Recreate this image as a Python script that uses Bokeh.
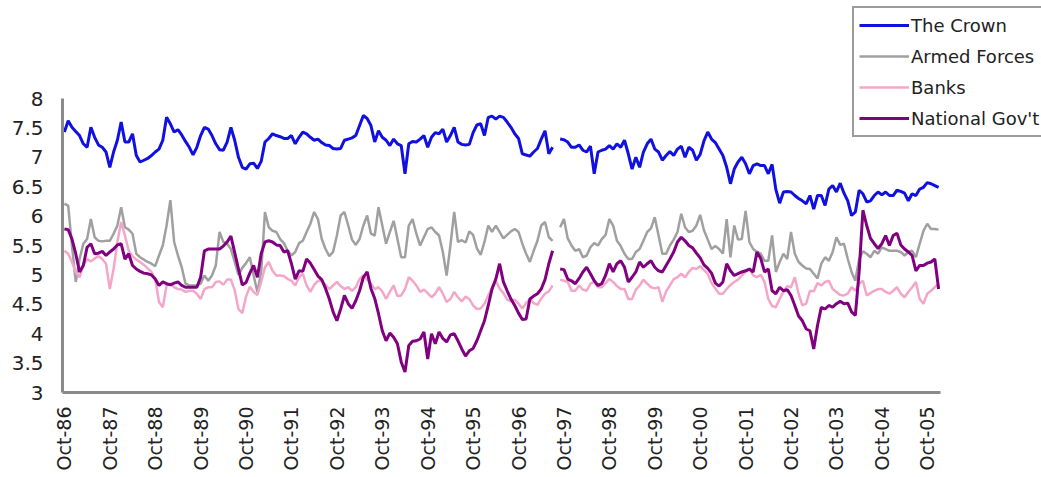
import math
from bokeh.plotting import figure
from bokeh.models import ColumnDataSource, FixedTicker, Legend, LegendItem
from bokeh.embed import file_html
from bokeh.resources import INLINE

nan = float("nan")

# Monthly values, Oct-86 .. Jan-06 (one missing month mid-1997)
the_crown = [
    7.43, 7.62, 7.51, 7.44, 7.37, 7.23, 7.17, 7.51, 7.34, 7.21,
    7.17, 7.09, 6.83, 7.09, 7.29, 7.60, 7.26, 7.26, 7.40, 7.03,
    6.92, 6.95, 6.98, 7.03, 7.09, 7.14, 7.29, 7.68, 7.57, 7.43,
    7.47, 7.38, 7.27, 7.17, 7.04, 7.17, 7.37, 7.51, 7.48, 7.37,
    7.23, 7.13, 7.12, 7.26, 7.51, 7.29, 7.00, 6.83, 6.80, 6.89,
    6.90, 6.81, 6.93, 7.26, 7.32, 7.40, 7.37, 7.35, 7.32, 7.32,
    7.37, 7.23, 7.34, 7.43, 7.40, 7.34, 7.29, 7.31, 7.25, 7.21,
    7.20, 7.15, 7.14, 7.15, 7.29, 7.31, 7.33, 7.37, 7.54, 7.71,
    7.66, 7.54, 7.26, 7.45, 7.34, 7.29, 7.20, 7.31, 7.23, 7.20,
    6.72, 7.23, 7.27, 7.26, 7.31, 7.37, 7.17, 7.34, 7.42, 7.40,
    7.48, 7.26, 7.37, 7.51, 7.26, 7.22, 7.21, 7.22, 7.42, 7.55,
    7.57, 7.37, 7.68, 7.70, 7.65, 7.70, 7.68, 7.60, 7.51, 7.40,
    7.32, 7.06, 7.04, 7.02, 7.09, 7.15, 7.31, 7.45, 7.06, 7.17,
    nan, 7.31, 7.30, 7.26, 7.17, 7.17, 7.21, 7.12, 7.09, 7.19,
    6.72, 7.09, 7.12, 7.14, 7.20, 7.14, 7.23, 7.17, 7.29, 7.06,
    6.80, 7.00, 6.83, 7.09, 7.23, 7.31, 7.14, 7.09, 6.95, 7.03,
    7.10, 7.03, 7.14, 7.19, 7.00, 7.17, 7.12, 6.95, 7.05, 7.28,
    7.43, 7.31, 7.25, 7.14, 7.03, 6.83, 6.55, 6.80, 6.92, 7.00,
    6.89, 6.72, 6.86, 6.89, 6.86, 6.86, 6.72, 6.88, 6.45, 6.22,
    6.41, 6.42, 6.41, 6.35, 6.30, 6.26, 6.21, 6.35, 6.12, 6.35,
    6.35, 6.18, 6.46, 6.52, 6.41, 6.56, 6.39, 6.26, 6.01, 6.07,
    6.44, 6.38, 6.24, 6.26, 6.35, 6.41, 6.36, 6.41, 6.35, 6.35,
    6.44, 6.42, 6.39, 6.26, 6.38, 6.35, 6.46, 6.49, 6.57, 6.55,
    6.52, 6.49,
]

armed_forces = [
    6.21, 6.18, 5.50, 4.88, 5.27, 5.53, 5.61, 5.95, 5.64, 5.58,
    5.57, 5.58, 5.58, 5.70, 5.84, 6.15, 5.81, 5.77, 5.70, 5.36,
    5.30, 5.26, 5.22, 5.19, 5.15, 5.33, 5.50, 5.84, 6.27, 5.56,
    5.33, 5.13, 4.85, 4.82, 4.82, 4.82, 4.85, 4.99, 4.90, 4.99,
    5.16, 5.73, 5.56, 5.53, 5.44, 5.22, 5.00, 5.12, 5.20, 5.30,
    4.99, 4.71, 5.05, 6.07, 5.81, 5.75, 5.73, 5.61, 5.54, 5.41,
    5.33, 5.39, 5.54, 5.58, 5.73, 5.87, 6.07, 5.95, 5.61, 5.44,
    5.32, 5.39, 5.67, 6.01, 6.07, 5.84, 5.60, 5.51, 5.61, 5.84,
    6.01, 5.70, 5.67, 6.15, 5.84, 5.53, 5.73, 5.92, 5.61, 5.30,
    5.30, 5.84, 5.95, 5.70, 5.50, 5.64, 5.78, 5.81, 5.73, 5.67,
    5.39, 4.99, 5.50, 6.07, 5.56, 5.59, 5.55, 5.74, 5.68, 5.45,
    5.34, 5.56, 5.84, 5.73, 5.84, 5.73, 5.62, 5.68, 5.74, 5.78,
    5.73, 5.53, 5.36, 5.22, 5.41, 5.58, 5.84, 5.90, 5.64, 5.58,
    nan, 5.81, 5.95, 5.62, 5.50, 5.41, 5.44, 5.30, 5.33, 5.47,
    5.54, 5.50, 5.61, 5.68, 5.95, 5.84, 5.58, 5.49, 5.36, 5.27,
    5.27, 5.39, 5.44, 5.58, 5.73, 5.79, 5.98, 5.67, 5.36, 5.36,
    5.50, 5.60, 5.73, 6.04, 5.81, 5.73, 5.75, 5.84, 6.02, 5.76,
    5.60, 5.44, 5.49, 5.44, 5.36, 5.95, 5.30, 5.84, 5.60, 5.61,
    6.09, 5.56, 5.44, 5.39, 5.36, 5.24, 5.24, 5.67, 5.05, 5.22,
    5.36, 5.27, 5.73, 5.36, 5.22, 5.16, 5.11, 5.10, 5.02, 4.94,
    5.19, 5.30, 5.24, 5.39, 5.64, 5.51, 5.53, 5.27, 5.05, 4.90,
    5.27, 5.40, 5.36, 5.30, 5.41, 5.36, 5.47, 5.44, 5.41, 5.41,
    5.41, 5.39, 5.33, 5.39, 5.41, 5.30, 5.53, 5.75, 5.87, 5.78,
    5.78, 5.77,
]

banks = [
    5.41, 5.36, 5.22, 5.05, 4.96, 5.16, 5.27, 5.23, 5.28, 5.32,
    5.27, 5.19, 4.76, 5.10, 5.56, 5.90, 5.67, 5.41, 5.32, 5.26,
    5.22, 5.17, 5.11, 5.05, 4.93, 4.54, 4.45, 4.82, 4.85, 4.79,
    4.76, 4.75, 4.71, 4.73, 4.73, 4.68, 4.59, 4.76, 4.79, 4.79,
    4.88, 4.89, 4.83, 4.92, 4.92, 4.74, 4.42, 4.35, 4.63, 4.80,
    4.71, 4.66, 4.88, 5.13, 5.22, 5.07, 4.99, 4.99, 4.98, 4.93,
    4.90, 4.82, 4.96, 5.02, 4.82, 4.71, 4.83, 4.90, 4.90, 4.83,
    4.76, 4.82, 4.88, 4.81, 4.76, 4.79, 4.73, 4.79, 4.93, 4.99,
    4.92, 4.85, 4.76, 4.79, 4.72, 4.59, 4.71, 4.82, 4.64, 4.65,
    4.76, 4.96, 4.90, 4.82, 4.71, 4.75, 4.69, 4.62, 4.68, 4.79,
    4.68, 4.54, 4.59, 4.71, 4.62, 4.55, 4.63, 4.59, 4.48, 4.42,
    4.43, 4.51, 4.65, 4.79, 4.90, 4.77, 4.69, 4.58, 4.55, 4.58,
    4.51, 4.43, 4.52, 4.59, 4.52, 4.49, 4.60, 4.68, 4.72, 4.82,
    nan, 4.92, 4.90, 4.88, 4.73, 4.73, 4.82, 4.75, 4.73, 4.85,
    4.88, 4.79, 4.79, 4.86, 4.93, 4.88, 4.81, 4.76, 4.76, 4.59,
    4.59, 4.75, 4.82, 4.92, 4.85, 4.79, 4.77, 4.79, 4.54, 4.72,
    4.82, 4.93, 4.96, 5.02, 4.96, 5.05, 5.12, 5.10, 5.15, 5.08,
    5.02, 4.86, 4.77, 4.68, 4.68, 4.76, 4.83, 4.88, 4.92, 4.99,
    5.05, 5.10, 4.99, 4.96, 5.00, 4.88, 4.59, 4.47, 4.45, 4.59,
    4.72, 4.81, 4.79, 4.96, 4.68, 4.48, 4.51, 4.73, 4.72, 4.86,
    4.82, 4.88, 4.90, 4.76, 4.71, 4.66, 4.65, 4.68, 4.79, 4.73,
    4.85, 4.90, 4.65, 4.69, 4.73, 4.76, 4.76, 4.71, 4.68, 4.73,
    4.79, 4.68, 4.62, 4.71, 4.79, 4.88, 4.59, 4.51, 4.68, 4.73,
    4.79, 4.85,
]

national_govt = [
    5.78, 5.77, 5.61, 5.36, 5.05, 5.16, 5.47, 5.53, 5.36, 5.37,
    5.40, 5.33, 5.39, 5.44, 5.51, 5.53, 5.27, 5.36, 5.16, 5.10,
    5.06, 5.03, 5.02, 5.00, 4.93, 4.82, 4.88, 4.85, 4.83, 4.86,
    4.88, 4.82, 4.79, 4.79, 4.79, 4.79, 4.96, 5.41, 5.44, 5.44,
    5.44, 5.44, 5.49, 5.56, 5.66, 5.38, 5.10, 4.83, 4.87, 5.03,
    5.16, 4.96, 5.36, 5.56, 5.58, 5.56, 5.51, 5.50, 5.39, 5.41,
    5.19, 4.93, 5.07, 5.06, 5.27, 5.20, 5.09, 4.98, 4.92, 4.77,
    4.59, 4.37, 4.22, 4.42, 4.65, 4.51, 4.43, 4.56, 4.73, 4.96,
    5.05, 4.77, 4.60, 4.34, 4.05, 3.88, 4.01, 3.94, 3.83, 3.52,
    3.35, 3.80, 3.87, 3.88, 3.91, 4.03, 3.57, 4.00, 3.83, 4.03,
    3.92, 3.86, 3.98, 4.00, 3.88, 3.74, 3.62, 3.71, 3.75, 3.88,
    4.05, 4.22, 4.48, 4.76, 4.93, 5.19, 4.88, 4.73, 4.59, 4.48,
    4.35, 4.24, 4.25, 4.59, 4.64, 4.68, 4.76, 4.92, 5.19, 5.41,
    nan, 5.10, 5.09, 4.93, 4.90, 4.85, 4.94, 5.05, 5.13, 5.02,
    4.90, 4.82, 4.85, 4.99, 5.19, 5.05, 5.19, 5.24, 5.13, 4.88,
    4.96, 5.05, 5.22, 5.13, 5.19, 5.24, 5.13, 5.07, 5.05, 5.16,
    5.27, 5.39, 5.56, 5.64, 5.58, 5.50, 5.46, 5.37, 5.29, 5.17,
    5.11, 5.03, 4.86, 4.81, 4.88, 5.19, 5.07, 4.99, 5.02, 5.05,
    5.07, 5.10, 5.05, 5.39, 5.28, 5.05, 5.10, 4.73, 4.68, 4.79,
    4.73, 4.75, 4.65, 4.48, 4.30, 4.22, 4.08, 4.05, 3.74, 4.14,
    4.45, 4.42, 4.48, 4.45, 4.51, 4.55, 4.51, 4.52, 4.37, 4.31,
    5.05, 6.10, 5.84, 5.62, 5.53, 5.45, 5.53, 5.67, 5.50, 5.67,
    5.71, 5.51, 5.44, 5.39, 5.33, 5.07, 5.16, 5.16, 5.20, 5.22,
    5.27, 4.76,
]

tick_labels = ["Oct-86", "Oct-87", "Oct-88", "Oct-89", "Oct-90", "Oct-91",
               "Oct-92", "Oct-93", "Oct-94", "Oct-95", "Oct-96", "Oct-97",
               "Oct-98", "Oct-99", "Oct-00", "Oct-01", "Oct-02", "Oct-03",
               "Oct-04", "Oct-05"]
y_ticks = [3, 3.5, 4, 4.5, 5, 5.5, 6, 6.5, 7, 7.5, 8]
y_tick_labels = ["3", "3.5", "4", "4.5", "5", "5.5", "6", "6.5", "7", "7.5", "8"]

n = len(the_crown)
months = list(range(n))
src = ColumnDataSource(dict(month=months, crown=the_crown, forces=armed_forces,
                            banks=banks, govt=national_govt))

# layout (pixels): canvas 1041x477; frame spans to the top/right edges so the
# legend can sit over the upper-right corner; axes are bounded to the data area
W, H = 1041, 477
left, bottom = 62, 85
frame_w, frame_h = W - left, H - bottom
data_w, data_h = 878, 294
y_lo, y_hi = y_ticks[0], y_ticks[-1]
x_end = -0.5 + n * frame_w / data_w
y_end = y_lo + (y_hi - y_lo) * frame_h / data_h

p = figure(width=W, height=H, x_range=(-0.5, x_end), y_range=(y_lo, y_end),
           output_backend="svg", toolbar_location=None,
           min_border_left=left, min_border_right=0, min_border_top=0,
           min_border_bottom=bottom)
p.outline_line_color = None
p.grid.visible = False
p.background_fill_color = "white"
p.border_fill_color = "white"

r_af = p.line("month", "forces", source=src, line_color="#a0a0a0", line_width=2.5)
r_bk = p.line("month", "banks", source=src, line_color="#f4a6c8", line_width=2.5)
r_ng = p.line("month", "govt", source=src, line_color="#800080", line_width=3)
r_cr = p.line("month", "crown", source=src, line_color="#1010e0", line_width=3)

tick_pos = [12 * i for i in range(len(tick_labels))]
p.xaxis.ticker = FixedTicker(ticks=tick_pos)
p.xaxis.major_label_overrides = {t: lab for t, lab in zip(tick_pos, tick_labels)}
p.xaxis.major_label_orientation = math.pi / 2
p.xaxis.bounds = (-0.5, n - 0.5)
p.yaxis.ticker = FixedTicker(ticks=y_ticks)
p.yaxis.major_label_overrides = {t: lab for t, lab in zip(y_ticks, y_tick_labels)}
p.yaxis.bounds = (y_lo, y_hi)

for ax in (p.xaxis, p.yaxis):
    ax.axis_line_color = "#8a8a8a"
    ax.axis_line_width = 3
    ax.major_tick_line_color = None
    ax.minor_tick_line_color = None
    ax.major_tick_out = 0
    ax.major_tick_in = 0
    ax.major_label_text_font = "DejaVu Sans"
    ax.major_label_text_color = "#222222"

p.yaxis.major_label_text_font_size = "20px"
p.yaxis.major_label_standoff = 19
p.xaxis.major_label_text_font_size = "19px"
p.xaxis.major_label_standoff = 14

legend = Legend(items=[
    LegendItem(label="The Crown", renderers=[r_cr]),
    LegendItem(label="Armed Forces", renderers=[r_af]),
    LegendItem(label="Banks", renderers=[r_bk]),
    LegendItem(label="National Gov't", renderers=[r_ng]),
], location=(852 - left, frame_h - 137))
legend.label_text_font = "DejaVu Sans"
legend.label_text_font_size = "18px"
legend.label_text_color = "#222222"
legend.glyph_width = 50
legend.glyph_height = 24
legend.label_height = 24
legend.label_standoff = 2
legend.spacing = 7
legend.padding = 5
legend.margin = 0
legend.border_line_color = "#3a3a3a"
legend.border_line_width = 2
legend.background_fill_color = "white"
legend.background_fill_alpha = 1.0
p.add_layout(legend)

open("out.html", "w").write(file_html(p, INLINE))
